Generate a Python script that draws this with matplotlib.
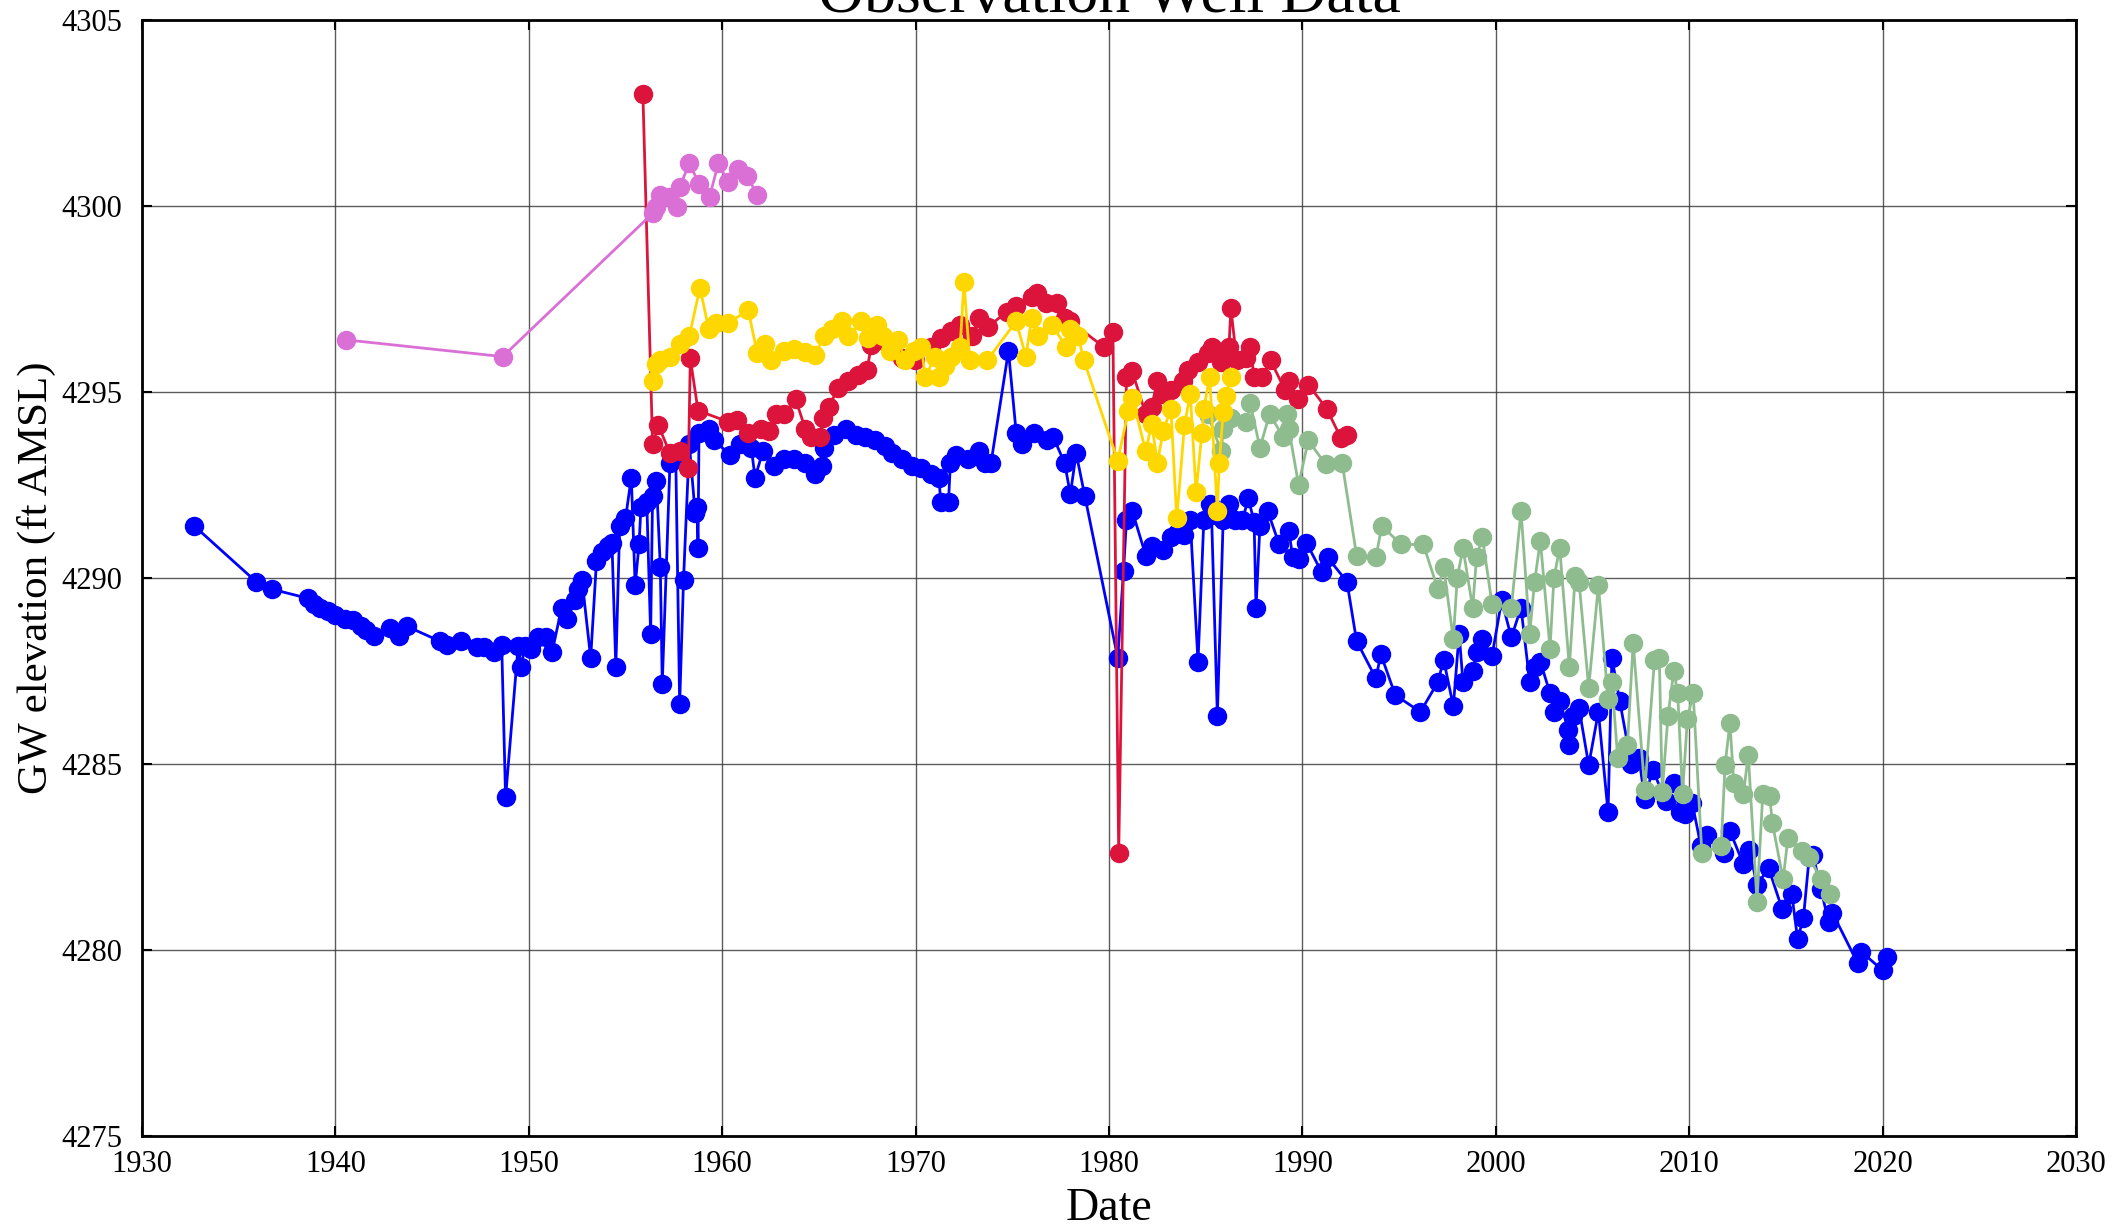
import matplotlib
matplotlib.use('Agg')
import matplotlib.pyplot as plt

# Well 1 (blue)
blue_year = [1932.7, 1935.9, 1936.7, 1938.6, 1938.9, 1939.2, 1939.6, 1940.0, 1940.5, 1940.9,
             1941.3, 1941.6, 1942.0, 1942.8, 1943.3, 1943.7, 1945.4, 1945.75, 1946.5, 1947.3,
             1947.7, 1948.2, 1948.6, 1948.8, 1949.45, 1949.6, 1949.8, 1950.1, 1950.5, 1950.9,
             1951.2, 1951.7, 1952.0, 1952.4, 1952.55, 1952.75, 1953.2, 1953.5, 1953.8, 1954.1,
             1954.3, 1954.5, 1954.7, 1955.0, 1955.3, 1955.5, 1955.7, 1955.8, 1956.1, 1956.3,
             1956.4, 1956.6, 1956.8, 1956.9, 1957.3, 1957.6, 1957.8, 1958.0, 1958.3, 1958.6,
             1958.7, 1958.75, 1958.8, 1959.3, 1959.6, 1960.4, 1960.9, 1961.5, 1961.7, 1962.1,
             1962.7, 1963.2, 1963.7, 1964.3, 1964.8, 1965.15, 1965.25, 1965.8, 1966.4, 1966.9,
             1967.4, 1967.9, 1968.4, 1968.8, 1969.3, 1969.8, 1970.3, 1970.8, 1971.2, 1971.3,
             1971.7, 1971.8, 1972.1, 1972.7, 1973.3, 1973.6, 1973.9, 1974.8, 1975.2, 1975.5,
             1976.1, 1976.8, 1977.1, 1977.7, 1978.0, 1978.3, 1978.75, 1980.45, 1980.75, 1980.9,
             1981.2, 1981.9, 1982.2, 1982.8, 1983.2, 1983.5, 1983.9, 1984.2, 1984.6, 1984.9,
             1985.2, 1985.3, 1985.6, 1985.9, 1986.2, 1986.5, 1986.9, 1987.2, 1987.5, 1987.6,
             1987.8, 1988.2, 1988.8, 1989.3, 1989.5, 1989.8, 1990.2, 1991.0, 1991.3, 1992.3,
             1992.8, 1993.8, 1994.05, 1994.8, 1996.1, 1997.0, 1997.3, 1997.8, 1998.1, 1998.3,
             1998.8, 1999.0, 1999.3, 1999.8, 2000.3, 2000.8, 2001.3, 2001.75, 2002.0, 2002.3,
             2002.8, 2003.0, 2003.3, 2003.75, 2003.8, 2004.0, 2004.3, 2004.8, 2005.3, 2005.8,
             2006.0, 2006.4, 2007.0, 2007.4, 2007.7, 2008.1, 2008.8, 2009.2, 2009.5, 2009.8,
             2010.15, 2010.6, 2010.9, 2011.8, 2012.1, 2012.8, 2013.1, 2013.5, 2014.1, 2014.8,
             2015.3, 2015.6, 2015.9, 2016.2, 2016.4, 2016.8, 2017.2, 2017.4, 2018.7, 2018.9,
             2020.0, 2020.2]
blue_gw = [4291.4, 4289.9, 4289.7, 4289.45, 4289.3, 4289.2, 4289.1, 4289.0, 4288.9, 4288.87,
           4288.7, 4288.6, 4288.45, 4288.65, 4288.45, 4288.7, 4288.3, 4288.2, 4288.3, 4288.15,
           4288.15, 4288.0, 4288.2, 4284.1, 4288.17, 4287.6, 4288.17, 4288.1, 4288.4, 4288.4,
           4288.0, 4289.2, 4288.9, 4289.4, 4289.7, 4289.95, 4287.85, 4290.45, 4290.7, 4290.85,
           4290.95, 4287.6, 4291.4, 4291.6, 4292.7, 4289.8, 4290.9, 4291.9, 4292.05, 4288.5,
           4292.2, 4292.6, 4290.3, 4287.15, 4293.1, 4293.2, 4286.6, 4289.95, 4293.6, 4291.75,
           4291.9, 4290.8, 4293.9, 4294.0, 4293.7, 4293.3, 4293.6, 4293.5, 4292.7, 4293.4,
           4293.0, 4293.2, 4293.2, 4293.1, 4292.8, 4293.0, 4293.5, 4293.85, 4294.0, 4293.85,
           4293.8, 4293.7, 4293.55, 4293.35, 4293.2, 4293.0, 4292.95, 4292.8, 4292.7, 4292.05,
           4292.05, 4293.1, 4293.3, 4293.2, 4293.4, 4293.1, 4293.1, 4296.1, 4293.9, 4293.6,
           4293.9, 4293.7, 4293.8, 4293.1, 4292.25, 4293.35, 4292.2, 4287.85, 4290.2, 4291.55,
           4291.8, 4290.6, 4290.85, 4290.75, 4291.1, 4291.2, 4291.15, 4291.55, 4287.75, 4291.55,
           4292.0, 4291.7, 4286.3, 4291.55, 4292.0, 4291.55, 4291.55, 4292.15, 4291.5, 4289.2,
           4291.4, 4291.8, 4290.9, 4291.25, 4290.55, 4290.5, 4290.95, 4290.15, 4290.55, 4289.9,
           4288.3, 4287.3, 4287.95, 4286.85, 4286.4, 4287.2, 4287.8, 4286.55, 4288.5, 4287.2,
           4287.5, 4288.0, 4288.35, 4287.9, 4289.4, 4288.4, 4289.2, 4287.2, 4287.6, 4287.75,
           4286.9, 4286.4, 4286.7, 4285.9, 4285.5, 4286.3, 4286.5, 4284.97, 4286.4, 4283.7,
           4287.85, 4286.7, 4285.0, 4285.15, 4284.05, 4284.85, 4284.0, 4284.5, 4283.7, 4283.65,
           4283.95, 4282.8, 4283.1, 4282.6, 4283.2, 4282.3, 4282.7, 4281.75, 4282.2, 4281.1,
           4281.5, 4280.3, 4280.85, 4282.5, 4282.55, 4281.65, 4280.75, 4281.0, 4279.65, 4279.95,
           4279.45, 4279.8]

# Well 2 (red)
red_year = [1955.9, 1956.4, 1956.7, 1957.3, 1957.8, 1958.25, 1958.35, 1958.75, 1960.3, 1960.75,
            1961.35, 1962.0, 1962.4, 1962.8, 1963.2, 1963.8, 1964.3, 1964.6, 1965.05, 1965.2,
            1965.5, 1966.0, 1966.5, 1967.0, 1967.5, 1967.7, 1968.25, 1968.8, 1969.3, 1969.95,
            1970.8, 1971.3, 1971.85, 1972.3, 1972.9, 1973.3, 1973.75, 1974.7, 1975.2, 1976.0,
            1976.3, 1976.75, 1977.3, 1977.7, 1978.0, 1979.75, 1980.2, 1980.5, 1980.9, 1981.2,
            1981.9, 1982.2, 1982.5, 1982.8, 1983.2, 1983.8, 1984.1, 1984.6, 1985.1, 1985.3,
            1985.8, 1986.0, 1986.2, 1986.3, 1986.6, 1987.1, 1987.3, 1987.5, 1987.9, 1988.35,
            1989.1, 1989.3, 1989.75, 1990.3, 1991.25, 1992.0, 1992.3]
red_gw = [4303.0, 4293.6, 4294.1, 4293.35, 4293.4, 4292.95, 4295.9, 4294.5, 4294.2, 4294.25,
          4293.9, 4294.0, 4293.95, 4294.4, 4294.4, 4294.8, 4294.0, 4293.8, 4293.8, 4294.3,
          4294.6, 4295.1, 4295.3, 4295.45, 4295.6, 4296.25, 4296.4, 4296.1, 4295.9, 4295.85,
          4296.2, 4296.45, 4296.65, 4296.8, 4296.5, 4297.0, 4296.75, 4297.15, 4297.3, 4297.55,
          4297.65, 4297.4, 4297.4, 4297.0, 4296.9, 4296.2, 4296.6, 4282.6, 4295.4, 4295.55,
          4294.4, 4294.6, 4295.3, 4294.95, 4295.05, 4295.3, 4295.6, 4295.8, 4296.05, 4296.2,
          4295.8, 4296.0, 4296.2, 4297.25, 4295.85, 4295.9, 4296.2, 4295.4, 4295.4, 4295.85,
          4295.05, 4295.3, 4294.8, 4295.2, 4294.55, 4293.75, 4293.85]

# Well 3 (gold)
gold_year = [1956.4, 1956.6, 1956.8, 1957.3, 1957.8, 1958.3, 1958.85, 1959.3, 1959.7, 1960.3,
             1961.35, 1961.8, 1962.2, 1962.5, 1963.2, 1963.7, 1964.3, 1964.8, 1965.25, 1965.7,
             1966.2, 1966.5, 1967.2, 1967.55, 1968.0, 1968.3, 1968.7, 1969.1, 1969.45, 1969.9,
             1970.3, 1970.5, 1971.0, 1971.2, 1971.5, 1971.85, 1972.3, 1972.5, 1972.8, 1973.7,
             1975.2, 1975.7, 1976.0, 1976.35, 1977.05, 1977.8, 1978.0, 1978.4, 1978.7, 1980.45,
             1981.0, 1981.2, 1981.9, 1982.2, 1982.5, 1982.8, 1983.2, 1983.5, 1983.9, 1984.2,
             1984.5, 1984.8, 1984.9, 1985.2, 1985.6, 1985.7, 1985.9, 1986.05, 1986.3]
gold_gw = [4295.3, 4295.75, 4295.85, 4295.95, 4296.3, 4296.5, 4297.8, 4296.7, 4296.85, 4296.85,
           4297.2, 4296.05, 4296.3, 4295.85, 4296.1, 4296.15, 4296.07, 4295.99, 4296.5, 4296.7,
           4296.9, 4296.5, 4296.9, 4296.45, 4296.8, 4296.5, 4296.1, 4296.4, 4295.85, 4296.1,
           4296.2, 4295.4, 4295.95, 4295.4, 4295.7, 4295.95, 4296.2, 4297.95, 4295.85, 4295.85,
           4296.9, 4295.95, 4297.0, 4296.5, 4296.8, 4296.2, 4296.7, 4296.5, 4295.85, 4293.15,
           4294.5, 4294.85, 4293.4, 4294.15, 4293.1, 4293.95, 4294.55, 4291.6, 4294.1, 4294.95,
           4292.3, 4293.9, 4294.55, 4295.4, 4291.8, 4293.1, 4294.45, 4294.9, 4295.4]

# Well 4 (orchid)
orchid_year = [1940.55, 1948.65, 1956.4, 1956.6, 1956.8, 1957.25, 1957.65, 1957.8, 1958.3, 1958.8,
               1959.35, 1959.8, 1960.3, 1960.8, 1961.3, 1961.8]
orchid_gw = [4296.4, 4295.95, 4299.8, 4299.97, 4300.3, 4300.25, 4299.97, 4300.5, 4301.15, 4300.6,
             4300.25, 4301.15, 4300.65, 4301.0, 4300.8, 4300.3]

# Well 5 (dark sea green)
green_year = [1985.1, 1985.8, 1985.9, 1986.3, 1987.1, 1987.3, 1987.8, 1988.3, 1989.0, 1989.2,
              1989.3, 1989.8, 1990.3, 1991.2, 1992.05, 1992.8, 1993.8, 1994.1, 1995.1, 1996.25,
              1997.0, 1997.3, 1997.8, 1998.0, 1998.3, 1998.8, 1999.0, 1999.3, 1999.8, 2000.8,
              2001.3, 2001.75, 2002.0, 2002.3, 2002.8, 2003.0, 2003.3, 2003.8, 2004.1, 2004.3,
              2004.8, 2005.3, 2005.8, 2006.0, 2006.3, 2006.8, 2007.1, 2007.7, 2008.2, 2008.45,
              2008.6, 2008.9, 2009.2, 2009.4, 2009.65, 2009.9, 2010.2, 2010.65, 2011.65, 2011.85,
              2012.1, 2012.3, 2012.8, 2013.05, 2013.5, 2013.8, 2014.15, 2014.3, 2014.85, 2015.1,
              2015.85, 2016.2, 2016.8, 2017.3]
green_gw = [4294.4, 4293.4, 4294.0, 4294.3, 4294.2, 4294.7, 4293.5, 4294.4, 4293.8, 4294.4,
            4294.0, 4292.5, 4293.7, 4293.05, 4293.1, 4290.6, 4290.55, 4291.4, 4290.9, 4290.9,
            4289.7, 4290.3, 4288.35, 4290.0, 4290.8, 4289.2, 4290.55, 4291.1, 4289.3, 4289.2,
            4291.8, 4288.5, 4289.9, 4291.0, 4288.1, 4290.0, 4290.8, 4287.6, 4290.05, 4289.9,
            4287.05, 4289.8, 4286.75, 4287.2, 4285.15, 4285.5, 4288.25, 4284.3, 4287.8, 4287.85,
            4284.25, 4286.3, 4287.5, 4286.9, 4284.2, 4286.2, 4286.9, 4282.6, 4282.8, 4284.97,
            4286.1, 4284.5, 4284.2, 4285.25, 4281.3, 4284.2, 4284.15, 4283.4, 4281.9, 4283.0,
            4282.65, 4282.5, 4281.9, 4281.5]

plt.rcParams['font.family'] = ['Liberation Serif', 'DejaVu Serif']

fig = plt.figure(figsize=(21.25, 12.31), dpi=100)
ax = fig.add_axes([0.0668, 0.0772, 0.9102, 0.9066])

ms = 13
lw = 2
ax.plot(blue_year, blue_gw, 'o-', color='#0000FF', ms=ms, lw=lw, mec='#0000FF', zorder=3)
ax.plot(red_year, red_gw, 'o-', color='#DC143C', ms=ms, lw=lw, mec='#DC143C', zorder=4)
ax.plot(green_year, green_gw, 'o-', color='#8FBC8F', ms=ms, lw=lw, mec='#8FBC8F', zorder=5)
ax.plot(gold_year, gold_gw, 'o-', color='#FFD700', ms=ms, lw=lw, mec='#FFD700', zorder=6)
ax.plot(orchid_year, orchid_gw, 'o-', color='#DA70D6', ms=ms, lw=lw, mec='#DA70D6', zorder=6)

ax.set_xlim(1930, 2030)
ax.set_ylim(4275, 4305)
ax.set_xticks(range(1930, 2031, 10))
ax.set_yticks(range(4275, 4306, 5))
ax.grid(True, color='0.2', lw=1.0, alpha=0.8, zorder=0)
ax.set_axisbelow(True)

ax.tick_params(direction='in', top=True, right=True, length=7, width=1.5,
               labelsize=22, pad=10)
ax.tick_params(axis='y', pad=14)
for s in ax.spines.values():
    s.set_linewidth(2)

ax.set_xlabel('Date', fontsize=33, labelpad=6)
ax.set_ylabel('GW elevation (ft AMSL)', fontsize=31, labelpad=4)
ax.set_title('Observation Well Data', fontsize=46)

fig.savefig('out.png', dpi=100)
